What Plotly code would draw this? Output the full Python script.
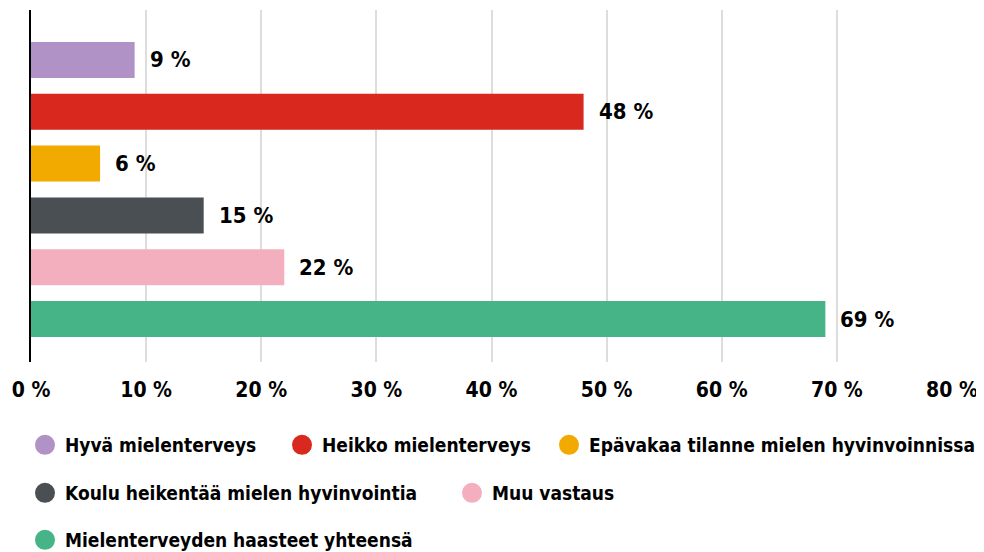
import plotly.graph_objects as go

categories = [
    "Hyvä mielenterveys",
    "Heikko mielenterveys",
    "Epävakaa tilanne mielen hyvinvoinnissa",
    "Koulu heikentää mielen hyvinvointia",
    "Muu vastaus",
    "Mielenterveyden haasteet yhteensä",
]
values = [9, 48, 6, 15, 22, 69]
colors = ["#B192C6", "#D9291E", "#F2A900", "#4A4F54", "#F4AFBF", "#46B487"]
legend_groups = ["legend", "legend", "legend4", "legend2", "legend2", "legend3"]
tick_values = [0, 10, 20, 30, 40, 50, 60, 70, 80]
tick_labels = [f"{v} %" for v in tick_values]

FONT = "DejaVu Sans Condensed, sans-serif"
FS = 19

fig = go.Figure()
for cat, val, col in zip(categories, values, colors):
    fig.add_trace(go.Bar(
        x=[val], y=[cat], orientation="h", marker=dict(color=col, line=dict(width=0)),
        width=0.695, showlegend=False, hoverinfo="skip",
    ))
for cat, col, lg in zip(categories, colors, legend_groups):
    fig.add_trace(go.Scatter(
        x=[None], y=[None], mode="markers", name=cat, legend=lg,
        marker=dict(symbol="circle", size=16, color=col, line=dict(color=col, width=4)),
    ))

for cat, val in zip(categories, values):
    fig.add_annotation(x=val, y=cat, text=f"<b>{val} %</b>", showarrow=False,
                       xanchor="left", yanchor="middle", xshift=13,
                       font=dict(family=FONT, size=22, color="#000"))

W, H = 976, 544
leg_common = dict(orientation="h", xref="container", yref="container",
                  xanchor="left", yanchor="middle", bgcolor="rgba(0,0,0,0)",
                  font=dict(family=FONT, size=FS, color="#000", weight="bold"),
                  itemclick=False, itemdoubleclick=False, borderwidth=0)

fig.update_layout(
    width=W, height=H,
    margin=dict(l=23, r=32, t=2, b=190, autoexpand=False),
    plot_bgcolor="white", paper_bgcolor="white",
    barmode="overlay",
    font=dict(family=FONT, size=FS, color="#000", weight="bold"),
    xaxis=dict(range=[0, 80], tickvals=tick_values, ticktext=tick_labels,
               showgrid=True, gridcolor="#dddddd", gridwidth=2, zeroline=False,
               showline=False, ticks="", ticklabelstandoff=13, automargin=False,
               tickfont=dict(family=FONT, size=21, color="#000", weight="bold")),
    yaxis=dict(type="category", categoryorder="array", categoryarray=categories,
               range=[5.83, -0.965], showticklabels=False, showgrid=False, automargin=False,
               zeroline=False, showline=True, linecolor="#000", linewidth=2, ticks=""),
    legend=dict(x=17 / W, y=1 - 437 / H, entrywidth=212, **leg_common),
    legend4=dict(x=541 / W, y=1 - 437 / H, **leg_common),
    legend2=dict(x=17 / W, y=1 - 485 / H, entrywidth=382, **leg_common),
    legend3=dict(x=17 / W, y=1 - 532 / H, **leg_common),
)

fig.write_html("out.html")
